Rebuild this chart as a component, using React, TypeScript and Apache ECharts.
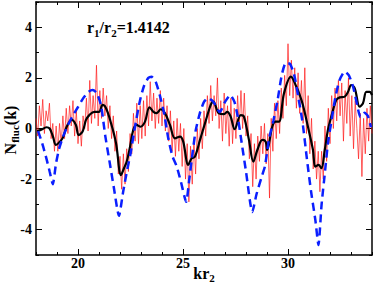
import React, { useEffect, useRef } from "react";
import * as echarts from "echarts";

const FONT = '"Liberation Serif", "Times New Roman", serif';

const xMajor = [20, 25, 30];
const yMajor = [-4, -2, 0, 2, 4];

const blackX = [18.05, 18.25, 18.5, 18.65, 18.8, 18.95, 19.1, 19.27, 19.45, 19.6, 19.7, 19.9, 20.03, 20.22, 20.38, 20.54, 20.78, 21.0, 21.17, 21.33, 21.57, 21.81, 22.05, 22.2, 22.32, 22.48, 22.63, 22.79, 22.98, 23.19, 23.4, 23.59, 23.75, 23.94, 24.14, 24.38, 24.62, 24.86, 25.01, 25.25, 25.41, 25.57, 25.81, 26.05, 26.32, 26.44, 26.71, 26.95, 27.11, 27.27, 27.46, 27.75, 27.9, 28.14, 28.35, 28.54, 28.78, 28.94, 29.01, 29.25, 29.41, 29.57, 29.81, 30.14, 30.4, 30.56, 30.71, 30.95, 31.19, 31.3, 31.46, 31.59, 31.75, 31.9, 32.06, 32.3, 32.46, 32.7, 32.86, 33.01, 33.18, 33.41, 33.57, 33.73, 33.89, 34.0];
const blackY = [-0.1, -0.05, 0.05, 0.0, -0.3, -0.65, -0.55, -0.38, 0.05, 0.27, 0.34, 0.14, -0.26, -0.12, 0.34, 0.53, 0.66, 0.66, 0.93, 0.81, 0.22, -0.57, -1.84, -1.55, -1.31, -0.72, -0.06, 0.14, 0.07, 0.27, 0.84, 0.66, 0.61, 0.76, 0.61, 0.14, -0.39, -0.32, -0.52, -1.44, -1.18, -1.11, -0.45, 0.21, 0.93, 1.06, 0.6, 0.57, 0.66, 0.47, -0.03, 0.53, 0.47, -0.45, -1.31, -0.85, -0.45, -0.52, -0.85, 0.07, 0.27, 0.27, 1.39, 2.05, 1.65, 1.32, 0.93, 0.07, -0.85, -1.51, -1.44, -1.57, -0.85, -0.06, 0.47, 1.13, 1.23, 1.26, 1.45, 1.72, 1.59, 0.86, 1.0, 1.45, 1.45, 1.32];

const blueX = [18.1, 18.3, 18.5, 18.65, 18.8, 18.95, 19.1, 19.3, 19.5, 19.75, 20.0, 20.25, 20.5, 20.7, 20.9, 21.1, 21.3, 21.5, 21.7, 21.95, 22.15, 22.35, 22.5, 22.7, 22.95, 23.15, 23.35, 23.5, 23.7, 23.9, 24.1, 24.3, 24.5, 24.7, 24.9, 25.15, 25.3, 25.45, 25.6, 25.8, 26.0, 26.2, 26.45, 26.75, 27.0, 27.25, 27.45, 27.6, 27.8, 28.0, 28.3, 28.5, 28.75, 28.9, 29.1, 29.3, 29.5, 29.7, 29.9, 30.1, 30.3, 30.5, 30.7, 30.9, 31.1, 31.3, 31.45, 31.6, 31.75, 31.9, 32.05, 32.25, 32.45, 32.7, 32.9, 33.1, 33.3, 33.45, 33.65, 33.8, 33.95];
const blueY = [-0.1, -0.6, -1.2, -1.7, -2.2, -1.4, -0.8, -0.3, 0.1, 0.5, 0.85, 1.2, 1.45, 1.52, 1.4, 0.9, -0.3, -1.3, -2.3, -3.45, -2.5, -1.6, -1.0, 0.0, 1.1, 1.7, 2.0, 2.05, 1.85, 1.3, 0.6, -0.4, -1.1, -1.5, -2.1, -2.9, -2.0, -1.0, -0.1, 0.6, 1.05, 1.2, 1.05, 0.65, 1.05, 1.32, 1.05, 0.5, -0.6, -1.7, -3.3, -2.6, -1.9, -1.5, -0.4, 0.3, 1.1, 2.1, 2.6, 2.55, 2.1, 1.2, 0.2, -1.2, -2.5, -3.6, -4.6, -3.0, -1.8, -0.6, 0.2, 1.2, 1.9, 2.25, 2.1, 1.65, 0.9, 0.45, 0.62, 0.5, 0.05];

const redStart = 18.0;
const redStep = 0.08;
const redY = [
  0.4, -0.3, 0.9, 0.1, 1.15, -0.2, 0.7, 0.3, 1.0, -0.4, 0.2, -0.9, 0.1,
  -0.9, 0.2, -0.6, 0.5, -0.4, 0.8, -0.2, 0.9, 0.1, 1.1, -0.3, 0.7, -0.6,
  0.3, -0.7, 0.5, 0.0, 1.2, -0.1, 1.9, 0.2, 1.3, 0.4, 2.5, 0.1, 1.5,
  0.4, 1.6, 0.5, 1.3, 0.0, 0.9, -0.4, 0.5, -0.9, -0.1, -1.8, -1.1, -2.4,
  -1.0, -2.2, -0.8, -1.7, -0.2, -1.0, 0.6, -0.5, 1.0, -0.6, 0.9, -0.4, 1.1,
  -0.3, 1.3, 0.1, 1.85, 0.3, 1.4, 0.0, 1.2, 0.2, 1.5, 0.1, 1.2, -0.1,
  0.9, -0.5, 0.7, -0.9, 0.3, -1.1, 0.4, -0.9, 0.2, -1.5, 0.0, -2.0, -0.6,
  -2.9, -0.7, -2.2, -0.4, -1.8, 0.0, -1.2, 0.4, -0.8, 0.7, -0.3, 1.3, 0.2,
  1.7, 0.3, 1.3, 0.5, 2.0, 0.0, 1.1, -0.5, 1.4, -0.2, 0.9, -0.7, 1.2,
  -0.6, 0.8, -0.4, 1.3, 0.1, 1.5, 0.0, 1.4, -0.3, 0.5, -1.2, -0.2, -2.3,
  -0.6, -2.0, -0.3, -1.3, 0.1, -1.0, 0.2, -1.4, -0.2, -2.75, 0.4, -0.9, 1.0,
  -0.4, 1.1, -0.2, 1.6, 0.4, 2.1, 0.9, 3.35, 1.3, 2.7, 1.2, 2.4, 0.8,
  2.2, 0.6, 1.9, 0.2, 2.4, -0.2, 1.3, -1.0, 0.4, -1.6, -0.5, -2.0, -0.9,
  -2.5, -0.9, -2.0, 0.1, -1.3, 0.8, -0.6, 1.3, 0.0, 1.6, 0.3, 1.9, 0.5,
  1.8, -0.5, 1.5, 0.2, 2.0, -0.3, 1.3, -0.8, 1.1, 0.0, -1.2, 0.6, -1.9,
  0.4, -1.0, 0.8, -0.5, 0.9, -0.2,
];

const titleText = "{m|r}{s|1}{m|/r}{s|2}{m|=1.4142}";
const yNameText = "{m|N}{s|fluc}{m|(k)}";
const xNameText = "{m|kr}{s|2}";

const richStyles = {
  m: { fontFamily: FONT, fontWeight: "bold", fontSize: 16, lineHeight: 16, fill: "#000" },
  s: { fontFamily: FONT, fontWeight: "bold", fontSize: 11, lineHeight: 11, padding: [10, 0, 0, 0], fill: "#000" },
};

export default function App() {
  const ref = useRef<HTMLDivElement>(null);
  useEffect(() => {
    if (!ref.current) return;
    const chart = echarts.init(ref.current, null, { renderer: "svg" });
    const axisLineStyle = { color: "#000", width: 1.5 };
    const tickStyle = { color: "#000", width: 1 };
    const labelStyle = { fontFamily: FONT, fontWeight: "bold" as const, fontSize: 14, color: "#000" };
    const xBase = { type: "value" as const, min: 18, max: 34, splitLine: { show: false }, gridIndex: 0 };
    const yBase = { type: "value" as const, min: -5, max: 5, splitLine: { show: false }, gridIndex: 0 };
    const majorLine = { show: true, onZero: false, lineStyle: axisLineStyle };
    const noLine = { show: false, onZero: false };
    chart.setOption({
      animation: false,
      backgroundColor: "#fff",
      grid: { left: 36, right: 2, top: 2, bottom: 34, containLabel: false, outerBoundsMode: "none" },
      xAxis: [
        {
          ...xBase, position: "bottom", offset: 0,
          axisLine: majorLine,
          axisTick: { show: true, inside: true, length: 6, customValues: xMajor, lineStyle: tickStyle },
          axisLabel: { show: true, customValues: xMajor, margin: 1, ...labelStyle },
        },
        {
          ...xBase, position: "bottom", offset: 0, interval: 1,
          axisLine: noLine,
          axisTick: { show: true, inside: true, length: 3, lineStyle: tickStyle },
          axisLabel: { show: false },
        },
        {
          ...xBase, position: "top", offset: 0,
          axisLine: majorLine,
          axisTick: { show: true, inside: true, length: 6, customValues: xMajor, lineStyle: tickStyle },
          axisLabel: { show: false },
        },
        {
          ...xBase, position: "top", offset: 0, interval: 1,
          axisLine: noLine,
          axisTick: { show: true, inside: true, length: 3, lineStyle: tickStyle },
          axisLabel: { show: false },
        },
      ],
      yAxis: [
        {
          ...yBase, position: "left", offset: 0,
          axisLine: majorLine,
          axisTick: { show: true, inside: true, length: 6, customValues: yMajor, lineStyle: tickStyle },
          axisLabel: { show: true, customValues: yMajor, margin: 4, ...labelStyle },
        },
        {
          ...yBase, position: "left", offset: 0, interval: 1,
          axisLine: noLine,
          axisTick: { show: true, inside: true, length: 3, lineStyle: tickStyle },
          axisLabel: { show: false },
        },
        {
          ...yBase, position: "right", offset: 0,
          axisLine: majorLine,
          axisTick: { show: true, inside: true, length: 6, customValues: yMajor, lineStyle: tickStyle },
          axisLabel: { show: false },
        },
        {
          ...yBase, position: "right", offset: 0, interval: 1,
          axisLine: noLine,
          axisTick: { show: true, inside: true, length: 3, lineStyle: tickStyle },
          axisLabel: { show: false },
        },
      ],
      series: [
        {
          type: "line", xAxisIndex: 0, yAxisIndex: 0, showSymbol: false, symbol: "none", silent: true,
          data: redY.map((v, i) => [redStart + i * redStep, v]),
          lineStyle: { color: "rgba(255,20,20,0.75)", width: 0.9 },
          z: 1,
        },
        {
          type: "line", xAxisIndex: 0, yAxisIndex: 0, showSymbol: false, symbol: "none", silent: true, smooth: 0.35,
          data: blackX.map((x, i) => [x, blackY[i]]),
          lineStyle: { color: "#000", width: 2.2 },
          z: 2,
        },
        {
          type: "line", xAxisIndex: 0, yAxisIndex: 0, showSymbol: false, symbol: "none", silent: true, smooth: 0.2,
          data: blueX.map((x, i) => [x, blueY[i]]),
          lineStyle: { color: "#0a1eff", width: 2.5, type: [8, 5] },
          z: 3,
        },
      ],
      graphic: [
        { type: "text", left: 87, top: 17, style: { text: titleText, rich: richStyles } },
        { type: "text", x: 2, y: 130, rotation: Math.PI / 2, style: { text: yNameText, rich: richStyles, align: "center", verticalAlign: "top" } },
        { type: "text", x: 204, y: 265, style: { text: xNameText, rich: richStyles, align: "center", verticalAlign: "top" } },
      ],
    });
    return () => chart.dispose();
  }, []);
  return <div ref={ref} style={{ position: "fixed", left: 0, top: 0, width: 374, height: 289 }} />;
}
